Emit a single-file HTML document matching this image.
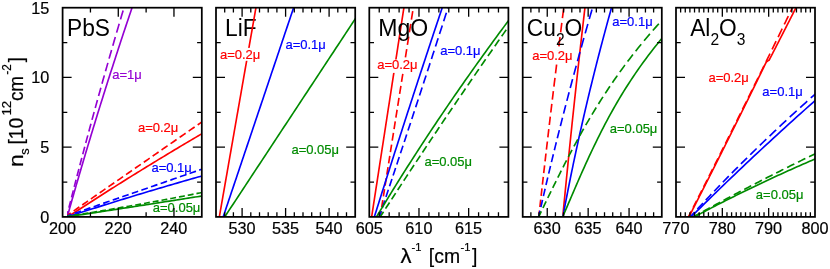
<!DOCTYPE html>
<html><head><meta charset="utf-8"><title>chart</title>
<style>html,body{margin:0;padding:0;background:#fff}svg{display:block;will-change:transform}</style>
</head><body>
<svg width="830" height="269" viewBox="0 0 830 269">
<rect width="830" height="269" fill="#fff"/>
<defs>
<clipPath id="c0"><rect x="67.0" y="7.7" width="134.8" height="209.2"/></clipPath>
<clipPath id="c1"><rect x="216.0" y="7.7" width="139.2" height="209.2"/></clipPath>
<clipPath id="c2"><rect x="369.3" y="7.7" width="139.1" height="209.2"/></clipPath>
<clipPath id="c3"><rect x="522.7" y="7.7" width="139.1" height="209.2"/></clipPath>
<clipPath id="c4"><rect x="676.0" y="7.7" width="139.0" height="209.2"/></clipPath>
</defs>
<!-- under -->
<g font-family="'Liberation Sans', sans-serif" fill="#000">
<text transform="translate(225.00,36.00) scale(0.940,1)" font-size="24.20">LiF</text>
</g>
<!-- curves -->
<g clip-path="url(#c0)" fill="none" stroke-width="1.65" stroke-linejoin="round">
<path d="M66.96,217.90 L67.97,214.29 L68.99,210.67 L70.01,207.06 L71.04,203.45 L72.06,199.83 L73.10,196.22 L74.13,192.61 L75.17,188.99 L76.21,185.38 L77.26,181.76 L78.31,178.15 L79.36,174.54 L80.42,170.92 L81.48,167.31 L82.55,163.70 L83.62,160.08 L84.69,156.47 L85.77,152.86 L86.84,149.24 L87.93,145.63 L89.02,142.02 L90.11,138.40 L91.20,134.79 L92.30,131.17 L93.40,127.56 L94.51,123.95 L95.62,120.33 L96.73,116.72 L97.85,113.11 L98.97,109.49 L100.09,105.88 L101.22,102.27 L102.35,98.65 L103.49,95.04 L104.62,91.43 L105.77,87.81 L106.91,84.20 L108.06,80.58 L109.22,76.97 L110.38,73.36 L111.54,69.74 L112.70,66.13 L113.87,62.52 L115.04,58.90 L116.22,55.29 L117.40,51.68 L118.58,48.06 L119.77,44.45 L120.96,40.84 L122.15,37.22 L123.35,33.61 L124.55,29.99 L125.76,26.38 L126.97,22.77 L128.18,19.15 L129.40,15.54 L130.62,11.93 L131.84,8.31 L133.07,4.70" stroke="#9400d3"/>
<path d="M66.34,217.90 L67.25,214.29 L68.16,210.67 L69.08,207.06 L69.99,203.45 L70.91,199.83 L71.83,196.22 L72.76,192.61 L73.69,188.99 L74.62,185.38 L75.55,181.76 L76.49,178.15 L77.43,174.54 L78.37,170.92 L79.32,167.31 L80.26,163.70 L81.22,160.08 L82.17,156.47 L83.13,152.86 L84.09,149.24 L85.05,145.63 L86.01,142.02 L86.98,138.40 L87.95,134.79 L88.93,131.17 L89.91,127.56 L90.89,123.95 L91.87,120.33 L92.85,116.72 L93.84,113.11 L94.84,109.49 L95.83,105.88 L96.83,102.27 L97.83,98.65 L98.83,95.04 L99.84,91.43 L100.85,87.81 L101.86,84.20 L102.87,80.58 L103.89,76.97 L104.91,73.36 L105.93,69.74 L106.96,66.13 L107.99,62.52 L109.02,58.90 L110.05,55.29 L111.09,51.68 L112.13,48.06 L113.18,44.45 L114.22,40.84 L115.27,37.22 L116.32,33.61 L117.38,29.99 L118.44,26.38 L119.50,22.77 L120.56,19.15 L121.63,15.54 L122.70,11.93 L123.77,8.31 L124.85,4.70" stroke="#9400d3" stroke-dasharray="7.0,3.5,7.1,3.6,7.2,3.6,7.4,3.7,7.5,3.8,7.6,3.8,7.7,3.9,7.9,4.0,8.0,4.0,8.2,4.1,8.3,4.2,8.5,4.3,8.6,4.3,8.7,4.4,8.9,4.5,9.1,4.6,9.2,4.6,9.3,4.7,9.3,4.7,9.3,4.7,9.3,4.7,9.3,4.7,9.3,4.7,9.3,4.7,9.3,4.7,9.3,4.7"/>
<path d="M67.50,217.07 L69.83,215.55 L72.16,214.02 L74.49,212.50 L76.82,210.99 L79.15,209.47 L81.48,207.96 L83.81,206.45 L86.14,204.94 L88.47,203.44 L90.81,201.94 L93.14,200.44 L95.47,198.95 L97.80,197.46 L100.13,195.97 L102.46,194.48 L104.79,193.00 L107.12,191.52 L109.45,190.04 L111.78,188.56 L114.11,187.09 L116.44,185.62 L118.77,184.16 L121.10,182.69 L123.43,181.23 L125.76,179.77 L128.09,178.32 L130.42,176.87 L132.75,175.42 L135.08,173.97 L137.42,172.53 L139.75,171.09 L142.08,169.65 L144.41,168.21 L146.74,166.78 L149.07,165.35 L151.40,163.93 L153.73,162.50 L156.06,161.08 L158.39,159.66 L160.72,158.25 L163.05,156.84 L165.38,155.43 L167.71,154.02 L170.04,152.62 L172.37,151.22 L174.70,149.82 L177.03,148.42 L179.36,147.03 L181.69,145.64 L184.03,144.25 L186.36,142.87 L188.69,141.49 L191.02,140.11 L193.35,138.74 L195.68,137.36 L198.01,135.99 L200.34,134.63 L202.67,133.26 L205.00,131.90" stroke="#ff0000"/>
<path d="M65.00,216.93 L67.37,215.29 L69.75,213.64 L72.12,211.99 L74.49,210.35 L76.86,208.70 L79.24,207.05 L81.61,205.41 L83.98,203.76 L86.36,202.12 L88.73,200.47 L91.10,198.82 L93.47,197.18 L95.85,195.53 L98.22,193.88 L100.59,192.24 L102.97,190.59 L105.34,188.94 L107.71,187.30 L110.08,185.65 L112.46,184.01 L114.83,182.36 L117.20,180.71 L119.58,179.07 L121.95,177.42 L124.32,175.77 L126.69,174.13 L129.07,172.48 L131.44,170.83 L133.81,169.19 L136.19,167.54 L138.56,165.89 L140.93,164.25 L143.31,162.60 L145.68,160.96 L148.05,159.31 L150.42,157.66 L152.80,156.02 L155.17,154.37 L157.54,152.72 L159.92,151.08 L162.29,149.43 L164.66,147.78 L167.03,146.14 L169.41,144.49 L171.78,142.85 L174.15,141.20 L176.53,139.55 L178.90,137.91 L181.27,136.26 L183.64,134.61 L186.02,132.97 L188.39,131.32 L190.76,129.67 L193.14,128.03 L195.51,126.38 L197.88,124.73 L200.25,123.09 L202.63,121.44 L205.00,119.80" stroke="#ff0000" stroke-dasharray="7.0,3.5,7.0,3.5,7.0,3.5,7.1,3.6,7.1,3.6,7.1,3.6,7.1,3.6,7.2,3.6,7.2,3.6,7.2,3.6,7.2,3.6,7.3,3.7,7.3,3.7,7.3,3.7,7.3,3.7,7.4,3.7,7.4,3.7,7.4,3.7,7.4,3.7,7.4,3.8,7.4,3.8,7.4,3.8,7.4,3.8,7.4,3.8,7.4,3.8,7.4,3.8,7.4,3.8,7.4,3.8,7.4,3.8,7.4,3.8,7.4,3.8"/>
<path d="M67.50,216.84 L69.83,216.08 L72.16,215.33 L74.49,214.57 L76.82,213.82 L79.15,213.06 L81.48,212.31 L83.81,211.56 L86.14,210.82 L88.47,210.07 L90.81,209.33 L93.14,208.58 L95.47,207.84 L97.80,207.11 L100.13,206.37 L102.46,205.63 L104.79,204.90 L107.12,204.17 L109.45,203.44 L111.78,202.71 L114.11,201.99 L116.44,201.27 L118.77,200.54 L121.10,199.82 L123.43,199.10 L125.76,198.39 L128.09,197.67 L130.42,196.96 L132.75,196.25 L135.08,195.54 L137.42,194.83 L139.75,194.13 L142.08,193.42 L144.41,192.72 L146.74,192.02 L149.07,191.32 L151.40,190.63 L153.73,189.93 L156.06,189.24 L158.39,188.55 L160.72,187.86 L163.05,187.17 L165.38,186.49 L167.71,185.80 L170.04,185.12 L172.37,184.44 L174.70,183.76 L177.03,183.09 L179.36,182.41 L181.69,181.74 L184.03,181.07 L186.36,180.40 L188.69,179.73 L191.02,179.06 L193.35,178.40 L195.68,177.74 L198.01,177.08 L200.34,176.42 L202.67,175.76 L205.00,175.11" stroke="#0000ff"/>
<path d="M65.00,216.57 L67.37,215.76 L69.75,214.94 L72.12,214.12 L74.49,213.30 L76.86,212.48 L79.24,211.66 L81.61,210.84 L83.98,210.02 L86.36,209.21 L88.73,208.39 L91.10,207.57 L93.47,206.75 L95.85,205.93 L98.22,205.11 L100.59,204.29 L102.97,203.47 L105.34,202.65 L107.71,201.83 L110.08,201.01 L112.46,200.19 L114.83,199.37 L117.20,198.55 L119.58,197.72 L121.95,196.90 L124.32,196.08 L126.69,195.26 L129.07,194.44 L131.44,193.62 L133.81,192.80 L136.19,191.97 L138.56,191.15 L140.93,190.33 L143.31,189.51 L145.68,188.69 L148.05,187.86 L150.42,187.04 L152.80,186.22 L155.17,185.40 L157.54,184.57 L159.92,183.75 L162.29,182.93 L164.66,182.10 L167.03,181.28 L169.41,180.46 L171.78,179.63 L174.15,178.81 L176.53,177.99 L178.90,177.16 L181.27,176.34 L183.64,175.51 L186.02,174.69 L188.39,173.86 L190.76,173.04 L193.14,172.22 L195.51,171.39 L197.88,170.57 L200.25,169.74 L202.63,168.92 L205.00,168.09" stroke="#0000ff" stroke-dasharray="6.7,3.4,6.7,3.4,6.7,3.4,6.7,3.4,6.7,3.4,6.7,3.4,6.7,3.4,6.7,3.4,6.8,3.4,6.8,3.4,6.8,3.4,6.8,3.4,6.8,3.4,6.8,3.4,6.8,3.4,6.9,3.5,6.9,3.5,6.9,3.5,6.9,3.5,6.9,3.5,6.9,3.5,6.9,3.5,6.9,3.5,6.9,3.5,6.9,3.5,6.9,3.5,6.9,3.5,6.9,3.5,6.9,3.5,6.9,3.5,6.9,3.5,6.9,3.5,6.9,3.5"/>
<path d="M67.50,216.80 L69.82,216.45 L72.14,216.10 L74.46,215.75 L76.78,215.40 L79.10,215.04 L81.42,214.69 L83.74,214.34 L86.06,213.98 L88.38,213.63 L90.70,213.28 L93.02,212.92 L95.34,212.57 L97.66,212.21 L99.98,211.86 L102.31,211.50 L104.63,211.15 L106.95,210.79 L109.27,210.44 L111.59,210.08 L113.91,209.72 L116.23,209.37 L118.55,209.01 L120.87,208.65 L123.19,208.29 L125.51,207.93 L127.83,207.58 L130.15,207.22 L132.47,206.86 L134.79,206.50 L137.11,206.14 L139.43,205.78 L141.75,205.42 L144.07,205.06 L146.39,204.70 L148.71,204.34 L151.03,203.98 L153.35,203.62 L155.67,203.25 L157.99,202.89 L160.31,202.53 L162.63,202.17 L164.95,201.80 L167.27,201.44 L169.59,201.08 L171.92,200.71 L174.24,200.35 L176.56,199.99 L178.88,199.62 L181.20,199.26 L183.52,198.89 L185.84,198.53 L188.16,198.16 L190.48,197.80 L192.80,197.43 L195.12,197.06 L197.44,196.70 L199.76,196.33 L202.08,195.96 L204.40,195.59" stroke="#008b00"/>
<path d="M65.00,216.80 L67.36,216.43 L69.73,216.06 L72.09,215.69 L74.45,215.31 L76.81,214.93 L79.18,214.55 L81.54,214.17 L83.90,213.79 L86.26,213.40 L88.63,213.02 L90.99,212.63 L93.35,212.24 L95.72,211.85 L98.08,211.45 L100.44,211.06 L102.80,210.66 L105.17,210.26 L107.53,209.86 L109.89,209.46 L112.25,209.06 L114.62,208.66 L116.98,208.25 L119.34,207.84 L121.71,207.43 L124.07,207.02 L126.43,206.61 L128.79,206.19 L131.16,205.77 L133.52,205.36 L135.88,204.94 L138.24,204.52 L140.61,204.09 L142.97,203.67 L145.33,203.24 L147.69,202.81 L150.06,202.38 L152.42,201.95 L154.78,201.52 L157.15,201.08 L159.51,200.65 L161.87,200.21 L164.23,199.77 L166.60,199.33 L168.96,198.88 L171.32,198.44 L173.68,197.99 L176.05,197.54 L178.41,197.09 L180.77,196.64 L183.14,196.19 L185.50,195.73 L187.86,195.28 L190.22,194.82 L192.59,194.36 L194.95,193.90 L197.31,193.43 L199.67,192.97 L202.04,192.50 L204.40,192.03" stroke="#008b00" stroke-dasharray="5.9,3.0,5.9,3.0,5.9,3.0,5.9,3.0,5.9,3.0,5.9,3.0,5.9,3.0,5.9,3.0,5.9,3.0,5.9,3.0,5.9,3.0,5.9,3.0,5.9,3.0,5.9,3.0,5.9,3.0,5.9,3.0,5.9,3.0,5.9,3.0,5.9,3.0,5.9,3.0,5.9,3.0,5.9,3.0,5.9,3.0,5.9,3.0,5.9,3.0,5.9,3.0,5.9,3.0,5.9,3.0,5.9,3.0,5.9,3.0,5.9,3.0,5.9,3.0,5.9,3.0,5.9,3.0,5.9,3.0,5.9,3.0,5.9,3.0,5.9,3.0"/>
</g>
<g clip-path="url(#c1)" fill="none" stroke-width="1.65" stroke-linejoin="round">
<path d="M219.16,217.90 L219.79,214.29 L220.42,210.67 L221.05,207.06 L221.68,203.45 L222.32,199.83 L222.95,196.22 L223.58,192.61 L224.21,188.99 L224.85,185.38 L225.48,181.76 L226.11,178.15 L226.74,174.54 L227.38,170.92 L228.01,167.31 L228.64,163.70 L229.27,160.08 L229.91,156.47 L230.54,152.86 L231.17,149.24 L231.80,145.63 L232.43,142.02 L233.07,138.40 L233.70,134.79 L234.33,131.17 L234.96,127.56 L235.60,123.95 L236.23,120.33 L236.86,116.72 L237.49,113.11 L238.13,109.49 L238.76,105.88 L239.39,102.27 L240.02,98.65 L240.66,95.04 L241.29,91.43 L241.92,87.81 L242.55,84.20 L243.19,80.58 L243.82,76.97 L244.45,73.36 L245.08,69.74 L245.71,66.13 L246.35,62.52 L246.98,58.90 L247.61,55.29 L248.24,51.68 L248.88,48.06 L249.51,44.45 L250.14,40.84 L250.77,37.22 L251.41,33.61 L252.04,29.99 L252.67,26.38 L253.30,22.77 L253.94,19.15 L254.57,15.54 L255.20,11.93 L255.83,8.31 L256.46,4.70" stroke="#ff0000"/>
<path d="M222.85,217.90 L224.06,214.29 L225.28,210.67 L226.50,207.06 L227.71,203.45 L228.93,199.83 L230.15,196.22 L231.36,192.61 L232.58,188.99 L233.80,185.38 L235.01,181.76 L236.23,178.15 L237.45,174.54 L238.66,170.92 L239.88,167.31 L241.10,163.70 L242.31,160.08 L243.53,156.47 L244.75,152.86 L245.96,149.24 L247.18,145.63 L248.40,142.02 L249.61,138.40 L250.83,134.79 L252.05,131.17 L253.26,127.56 L254.48,123.95 L255.70,120.33 L256.91,116.72 L258.13,113.11 L259.35,109.49 L260.56,105.88 L261.78,102.27 L263.00,98.65 L264.21,95.04 L265.43,91.43 L266.65,87.81 L267.86,84.20 L269.08,80.58 L270.30,76.97 L271.51,73.36 L272.73,69.74 L273.95,66.13 L275.16,62.52 L276.38,58.90 L277.60,55.29 L278.81,51.68 L280.03,48.06 L281.25,44.45 L282.46,40.84 L283.68,37.22 L284.90,33.61 L286.11,29.99 L287.33,26.38 L288.55,22.77 L289.77,19.15 L290.98,15.54 L292.20,11.93 L293.42,8.31 L294.63,4.70" stroke="#0000ff"/>
<path d="M224.07,217.90 L226.45,214.29 L228.83,210.67 L231.21,207.06 L233.60,203.45 L235.98,199.83 L238.36,196.22 L240.74,192.61 L243.12,188.99 L245.50,185.38 L247.88,181.76 L250.27,178.15 L252.65,174.54 L255.03,170.92 L257.41,167.31 L259.79,163.70 L262.17,160.08 L264.55,156.47 L266.94,152.86 L269.32,149.24 L271.70,145.63 L274.08,142.02 L276.46,138.40 L278.84,134.79 L281.23,131.17 L283.61,127.56 L285.99,123.95 L288.37,120.33 L290.75,116.72 L293.13,113.11 L295.51,109.49 L297.90,105.88 L300.28,102.27 L302.66,98.65 L305.04,95.04 L307.42,91.43 L309.80,87.81 L312.18,84.20 L314.57,80.58 L316.95,76.97 L319.33,73.36 L321.71,69.74 L324.09,66.13 L326.47,62.52 L328.86,58.90 L331.24,55.29 L333.62,51.68 L336.00,48.06 L338.38,44.45 L340.76,40.84 L343.14,37.22 L345.53,33.61 L347.91,29.99 L350.29,26.38 L352.67,22.77 L355.05,19.15 L357.43,15.54 L359.82,11.93 L362.20,8.31 L364.58,4.70" stroke="#008b00"/>
</g>
<g clip-path="url(#c2)" fill="none" stroke-width="1.65" stroke-linejoin="round">
<path d="M371.49,217.90 L372.04,214.29 L372.60,210.67 L373.16,207.06 L373.71,203.45 L374.27,199.83 L374.83,196.22 L375.39,192.61 L375.94,188.99 L376.50,185.38 L377.06,181.76 L377.61,178.15 L378.17,174.54 L378.73,170.92 L379.28,167.31 L379.84,163.70 L380.40,160.08 L380.96,156.47 L381.51,152.86 L382.07,149.24 L382.63,145.63 L383.18,142.02 L383.74,138.40 L384.30,134.79 L384.86,131.17 L385.41,127.56 L385.97,123.95 L386.53,120.33 L387.08,116.72 L387.64,113.11 L388.20,109.49 L388.75,105.88 L389.31,102.27 L389.87,98.65 L390.43,95.04 L390.98,91.43 L391.54,87.81 L392.10,84.20 L392.65,80.58 L393.21,76.97 L393.77,73.36 L394.33,69.74 L394.88,66.13 L395.44,62.52 L396.00,58.90 L396.55,55.29 L397.11,51.68 L397.67,48.06 L398.22,44.45 L398.78,40.84 L399.34,37.22 L399.90,33.61 L400.45,29.99 L401.01,26.38 L401.57,22.77 L402.12,19.15 L402.68,15.54 L403.24,11.93 L403.80,8.31 L404.35,4.70" stroke="#ff0000"/>
<path d="M379.98,217.90 L380.55,214.29 L381.12,210.67 L381.70,207.06 L382.27,203.45 L382.84,199.83 L383.42,196.22 L383.99,192.61 L384.56,188.99 L385.13,185.38 L385.71,181.76 L386.28,178.15 L386.85,174.54 L387.42,170.92 L388.00,167.31 L388.57,163.70 L389.14,160.08 L389.72,156.47 L390.29,152.86 L390.86,149.24 L391.43,145.63 L392.01,142.02 L392.58,138.40 L393.15,134.79 L393.72,131.17 L394.30,127.56 L394.87,123.95 L395.44,120.33 L396.02,116.72 L396.59,113.11 L397.16,109.49 L397.73,105.88 L398.31,102.27 L398.88,98.65 L399.45,95.04 L400.03,91.43 L400.60,87.81 L401.17,84.20 L401.74,80.58 L402.32,76.97 L402.89,73.36 L403.46,69.74 L404.03,66.13 L404.61,62.52 L405.18,58.90 L405.75,55.29 L406.33,51.68 L406.90,48.06 L407.47,44.45 L408.04,40.84 L408.62,37.22 L409.19,33.61 L409.76,29.99 L410.34,26.38 L410.91,22.77 L411.48,19.15 L412.05,15.54 L412.63,11.93 L413.20,8.31 L413.77,4.70" stroke="#ff0000" stroke-dasharray="7.2,3.6,7.3,3.7,7.3,3.7,7.4,3.7,7.5,3.8,7.6,3.8,7.7,3.9,7.8,3.9,7.8,3.9,7.9,4.0,8.0,4.0,8.1,4.1,8.2,4.1,8.3,4.2,8.4,4.2,8.5,4.3,8.6,4.3,8.6,4.4,8.6,4.4,8.6,4.4,8.6,4.4,8.6,4.4,8.6,4.4,8.6,4.4,8.6,4.4,8.6,4.4,8.6,4.4"/>
<path d="M374.02,217.90 L375.16,214.29 L376.29,210.67 L377.43,207.06 L378.57,203.45 L379.71,199.83 L380.85,196.22 L381.99,192.61 L383.14,188.99 L384.28,185.38 L385.43,181.76 L386.58,178.15 L387.73,174.54 L388.88,170.92 L390.03,167.31 L391.18,163.70 L392.34,160.08 L393.49,156.47 L394.65,152.86 L395.81,149.24 L396.97,145.63 L398.13,142.02 L399.29,138.40 L400.45,134.79 L401.62,131.17 L402.79,127.56 L403.95,123.95 L405.12,120.33 L406.29,116.72 L407.47,113.11 L408.64,109.49 L409.81,105.88 L410.99,102.27 L412.17,98.65 L413.34,95.04 L414.52,91.43 L415.71,87.81 L416.89,84.20 L418.07,80.58 L419.26,76.97 L420.44,73.36 L421.63,69.74 L422.82,66.13 L424.01,62.52 L425.20,58.90 L426.39,55.29 L427.59,51.68 L428.79,48.06 L429.98,44.45 L431.18,40.84 L432.38,37.22 L433.58,33.61 L434.78,29.99 L435.99,26.38 L437.19,22.77 L438.40,19.15 L439.61,15.54 L440.82,11.93 L442.03,8.31 L443.24,4.70" stroke="#0000ff"/>
<path d="M378.95,217.90 L380.16,214.29 L381.37,210.67 L382.58,207.06 L383.79,203.45 L385.00,199.83 L386.21,196.22 L387.41,192.61 L388.62,188.99 L389.82,185.38 L391.03,181.76 L392.23,178.15 L393.43,174.54 L394.63,170.92 L395.84,167.31 L397.04,163.70 L398.23,160.08 L399.43,156.47 L400.63,152.86 L401.83,149.24 L403.02,145.63 L404.22,142.02 L405.41,138.40 L406.60,134.79 L407.79,131.17 L408.99,127.56 L410.18,123.95 L411.37,120.33 L412.55,116.72 L413.74,113.11 L414.93,109.49 L416.12,105.88 L417.30,102.27 L418.48,98.65 L419.67,95.04 L420.85,91.43 L422.03,87.81 L423.21,84.20 L424.39,80.58 L425.57,76.97 L426.75,73.36 L427.93,69.74 L429.10,66.13 L430.28,62.52 L431.46,58.90 L432.63,55.29 L433.80,51.68 L434.97,48.06 L436.15,44.45 L437.32,40.84 L438.49,37.22 L439.66,33.61 L440.82,29.99 L441.99,26.38 L443.16,22.77 L444.32,19.15 L445.49,15.54 L446.65,11.93 L447.81,8.31 L448.97,4.70" stroke="#0000ff" stroke-dasharray="7.3,3.7,7.4,3.7,7.5,3.8,7.6,3.8,7.7,3.9,7.8,3.9,7.9,4.0,8.0,4.0,8.1,4.1,8.2,4.1,8.3,4.2,8.4,4.2,8.5,4.3,8.6,4.3,8.7,4.4,8.8,4.4,8.9,4.5,9.0,4.5,9.0,4.5,9.0,4.5,9.0,4.5,9.0,4.5,9.0,4.5,9.0,4.5,9.0,4.5,9.0,4.5,9.0,4.5"/>
<path d="M375.90,217.90 L378.06,214.29 L380.24,210.67 L382.43,207.06 L384.63,203.45 L386.83,199.83 L389.05,196.22 L391.28,192.61 L393.51,188.99 L395.76,185.38 L398.01,181.76 L400.28,178.15 L402.55,174.54 L404.84,170.92 L407.13,167.31 L409.44,163.70 L411.75,160.08 L414.07,156.47 L416.41,152.86 L418.75,149.24 L421.10,145.63 L423.47,142.02 L425.84,138.40 L428.22,134.79 L430.61,131.17 L433.02,127.56 L435.43,123.95 L437.85,120.33 L440.28,116.72 L442.72,113.11 L445.17,109.49 L447.63,105.88 L450.10,102.27 L452.58,98.65 L455.07,95.04 L457.57,91.43 L460.08,87.81 L462.60,84.20 L465.13,80.58 L467.67,76.97 L470.22,73.36 L472.77,69.74 L475.34,66.13 L477.92,62.52 L480.51,58.90 L483.10,55.29 L485.71,51.68 L488.33,48.06 L490.95,44.45 L493.59,40.84 L496.24,37.22 L498.89,33.61 L501.56,29.99 L504.23,26.38 L506.92,22.77 L509.61,19.15 L512.32,15.54 L515.03,11.93 L517.75,8.31 L520.49,4.70" stroke="#008b00"/>
<path d="M379.56,217.90 L381.89,214.29 L384.23,210.67 L386.57,207.06 L388.92,203.45 L391.27,199.83 L393.62,196.22 L395.98,192.61 L398.34,188.99 L400.71,185.38 L403.07,181.76 L405.45,178.15 L407.82,174.54 L410.20,170.92 L412.59,167.31 L414.98,163.70 L417.37,160.08 L419.77,156.47 L422.17,152.86 L424.57,149.24 L426.98,145.63 L429.39,142.02 L431.80,138.40 L434.22,134.79 L436.65,131.17 L439.07,127.56 L441.51,123.95 L443.94,120.33 L446.38,116.72 L448.82,113.11 L451.27,109.49 L453.72,105.88 L456.17,102.27 L458.63,98.65 L461.10,95.04 L463.56,91.43 L466.03,87.81 L468.51,84.20 L470.98,80.58 L473.47,76.97 L475.95,73.36 L478.44,69.74 L480.93,66.13 L483.43,62.52 L485.93,58.90 L488.44,55.29 L490.95,51.68 L493.46,48.06 L495.98,44.45 L498.50,40.84 L501.02,37.22 L503.55,33.61 L506.08,29.99 L508.62,26.38 L511.16,22.77 L513.70,19.15 L516.25,15.54 L518.80,11.93 L521.36,8.31 L523.92,4.70" stroke="#008b00" stroke-dasharray="7.3,3.7,7.4,3.7,7.4,3.7,7.4,3.7,7.5,3.8,7.5,3.8,7.5,3.8,7.6,3.8,7.6,3.8,7.7,3.9,7.7,3.9,7.7,3.9,7.8,3.9,7.8,3.9,7.8,4.0,7.9,4.0,7.9,4.0,8.0,4.0,8.0,4.0,8.0,4.0,8.0,4.0,8.0,4.0,8.0,4.0,8.0,4.0,8.0,4.0,8.0,4.0,8.0,4.0,8.0,4.0,8.0,4.0"/>
</g>
<g clip-path="url(#c3)" fill="none" stroke-width="1.65" stroke-linejoin="round">
<path d="M562.66,217.90 L563.00,214.29 L563.35,210.67 L563.69,207.06 L564.04,203.45 L564.39,199.83 L564.75,196.22 L565.10,192.61 L565.45,188.99 L565.81,185.38 L566.17,181.76 L566.53,178.15 L566.89,174.54 L567.25,170.92 L567.61,167.31 L567.97,163.70 L568.34,160.08 L568.71,156.47 L569.07,152.86 L569.44,149.24 L569.81,145.63 L570.18,142.02 L570.56,138.40 L570.93,134.79 L571.31,131.17 L571.68,127.56 L572.06,123.95 L572.44,120.33 L572.82,116.72 L573.21,113.11 L573.59,109.49 L573.98,105.88 L574.36,102.27 L574.75,98.65 L575.14,95.04 L575.53,91.43 L575.92,87.81 L576.31,84.20 L576.71,80.58 L577.10,76.97 L577.50,73.36 L577.90,69.74 L578.30,66.13 L578.70,62.52 L579.10,58.90 L579.51,55.29 L579.91,51.68 L580.32,48.06 L580.72,44.45 L581.13,40.84 L581.54,37.22 L581.96,33.61 L582.37,29.99 L582.78,26.38 L583.20,22.77 L583.62,19.15 L584.03,15.54 L584.45,11.93 L584.87,8.31 L585.30,4.70" stroke="#ff0000"/>
<path d="M538.67,217.90 L539.07,214.29 L539.47,210.67 L539.88,207.06 L540.28,203.45 L540.69,199.83 L541.09,196.22 L541.50,192.61 L541.91,188.99 L542.31,185.38 L542.72,181.76 L543.14,178.15 L543.55,174.54 L543.96,170.92 L544.38,167.31 L544.79,163.70 L545.21,160.08 L545.63,156.47 L546.04,152.86 L546.46,149.24 L546.88,145.63 L547.31,142.02 L547.73,138.40 L548.15,134.79 L548.58,131.17 L549.01,127.56 L549.43,123.95 L549.86,120.33 L550.29,116.72 L550.72,113.11 L551.15,109.49 L551.59,105.88 L552.02,102.27 L552.45,98.65 L552.89,95.04 L553.33,91.43 L553.77,87.81 L554.20,84.20 L554.64,80.58 L555.09,76.97 L555.53,73.36 L555.97,69.74 L556.42,66.13 L556.86,62.52 L557.31,58.90 L557.76,55.29 L558.21,51.68 L558.66,48.06 L559.11,44.45 L559.56,40.84 L560.01,37.22 L560.47,33.61 L560.92,29.99 L561.38,26.38 L561.84,22.77 L562.29,19.15 L562.75,15.54 L563.22,11.93 L563.68,8.31 L564.14,4.70" stroke="#ff0000" stroke-dasharray="7.3,3.7,7.4,3.7,7.6,3.8,7.7,3.9,7.8,3.9,8.0,4.0,8.1,4.1,8.3,4.2,8.4,4.2,8.6,4.3,8.7,4.4,8.9,4.5,9.0,4.5,9.2,4.6,9.3,4.7,9.5,4.8,9.6,4.9,9.6,4.9,9.6,4.9,9.6,4.9,9.6,4.9,9.6,4.9,9.6,4.9,9.6,4.9,9.6,4.9"/>
<path d="M562.69,217.90 L563.36,214.29 L564.03,210.67 L564.71,207.06 L565.40,203.45 L566.10,199.83 L566.80,196.22 L567.50,192.61 L568.21,188.99 L568.93,185.38 L569.65,181.76 L570.38,178.15 L571.12,174.54 L571.86,170.92 L572.61,167.31 L573.36,163.70 L574.12,160.08 L574.88,156.47 L575.66,152.86 L576.43,149.24 L577.22,145.63 L578.00,142.02 L578.80,138.40 L579.60,134.79 L580.41,131.17 L581.22,127.56 L582.04,123.95 L582.86,120.33 L583.69,116.72 L584.53,113.11 L585.37,109.49 L586.22,105.88 L587.07,102.27 L587.93,98.65 L588.80,95.04 L589.67,91.43 L590.55,87.81 L591.43,84.20 L592.32,80.58 L593.22,76.97 L594.12,73.36 L595.03,69.74 L595.94,66.13 L596.86,62.52 L597.78,58.90 L598.72,55.29 L599.65,51.68 L600.60,48.06 L601.54,44.45 L602.50,40.84 L603.46,37.22 L604.43,33.61 L605.40,29.99 L606.38,26.38 L607.36,22.77 L608.35,19.15 L609.35,15.54 L610.35,11.93 L611.36,8.31 L612.38,4.70" stroke="#0000ff"/>
<path d="M538.43,217.90 L539.25,214.29 L540.06,210.67 L540.89,207.06 L541.71,203.45 L542.54,199.83 L543.38,196.22 L544.22,192.61 L545.06,188.99 L545.90,185.38 L546.75,181.76 L547.61,178.15 L548.47,174.54 L549.33,170.92 L550.20,167.31 L551.07,163.70 L551.94,160.08 L552.82,156.47 L553.71,152.86 L554.59,149.24 L555.48,145.63 L556.38,142.02 L557.28,138.40 L558.18,134.79 L559.09,131.17 L560.00,127.56 L560.92,123.95 L561.84,120.33 L562.76,116.72 L563.69,113.11 L564.62,109.49 L565.55,105.88 L566.49,102.27 L567.44,98.65 L568.39,95.04 L569.34,91.43 L570.29,87.81 L571.25,84.20 L572.22,80.58 L573.19,76.97 L574.16,73.36 L575.14,69.74 L576.12,66.13 L577.10,62.52 L578.09,58.90 L579.08,55.29 L580.08,51.68 L581.08,48.06 L582.08,44.45 L583.09,40.84 L584.11,37.22 L585.12,33.61 L586.14,29.99 L587.17,26.38 L588.20,22.77 L589.23,19.15 L590.27,15.54 L591.31,11.93 L592.36,8.31 L593.41,4.70" stroke="#0000ff" stroke-dasharray="7.3,3.7,7.5,3.8,7.6,3.8,7.8,3.9,7.9,4.0,8.1,4.1,8.2,4.1,8.4,4.2,8.6,4.3,8.7,4.4,8.9,4.5,9.1,4.6,9.3,4.7,9.5,4.8,9.7,4.9,9.8,5.0,10.0,5.0,10.0,5.0,10.0,5.0,10.0,5.0,10.0,5.0,10.0,5.0,10.0,5.0,10.0,5.0,10.0,5.0"/>
<path d="M562.26,217.90 L563.81,214.29 L565.36,210.67 L566.91,207.06 L568.46,203.45 L570.00,199.83 L571.55,196.22 L573.11,192.61 L574.67,188.99 L576.23,185.38 L577.81,181.76 L579.39,178.15 L580.98,174.54 L582.59,170.92 L584.21,167.31 L585.84,163.70 L587.49,160.08 L589.16,156.47 L590.84,152.86 L592.55,149.24 L594.28,145.63 L596.03,142.02 L597.80,138.40 L599.61,134.79 L601.43,131.17 L603.29,127.56 L605.17,123.95 L607.09,120.33 L609.04,116.72 L611.02,113.11 L613.04,109.49 L615.10,105.88 L617.19,102.27 L619.32,98.65 L621.49,95.04 L623.71,91.43 L625.96,87.81 L628.26,84.20 L630.61,80.58 L633.01,76.97 L635.45,73.36 L637.95,69.74 L640.49,66.13 L643.09,62.52 L645.74,58.90 L648.45,55.29 L651.22,51.68 L654.04,48.06 L656.92,44.45 L659.87,40.84 L662.87,37.22 L665.94,33.61 L669.08,29.99 L672.28,26.38 L675.55,22.77 L678.89,19.15 L682.30,15.54 L685.78,11.93 L689.33,8.31 L692.96,4.70" stroke="#008b00"/>
<path d="M538.16,217.90 L539.90,214.29 L541.64,210.67 L543.39,207.06 L545.13,203.45 L546.88,199.83 L548.64,196.22 L550.40,192.61 L552.17,188.99 L553.94,185.38 L555.73,181.76 L557.52,178.15 L559.33,174.54 L561.15,170.92 L562.98,167.31 L564.83,163.70 L566.69,160.08 L568.58,156.47 L570.47,152.86 L572.39,149.24 L574.33,145.63 L576.29,142.02 L578.27,138.40 L580.27,134.79 L582.30,131.17 L584.35,127.56 L586.43,123.95 L588.54,120.33 L590.67,116.72 L592.84,113.11 L595.04,109.49 L597.26,105.88 L599.52,102.27 L601.82,98.65 L604.15,95.04 L606.51,91.43 L608.92,87.81 L611.36,84.20 L613.84,80.58 L616.36,76.97 L618.92,73.36 L621.52,69.74 L624.17,66.13 L626.86,62.52 L629.60,58.90 L632.38,55.29 L635.22,51.68 L638.10,48.06 L641.03,44.45 L644.01,40.84 L647.04,37.22 L650.13,33.61 L653.27,29.99 L656.47,26.38 L659.72,22.77 L663.03,19.15 L666.40,15.54 L669.83,11.93 L673.32,8.31 L676.87,4.70" stroke="#008b00" stroke-dasharray="7.3,3.7,7.4,3.7,7.5,3.8,7.6,3.8,7.7,3.9,7.8,3.9,7.9,4.0,8.0,4.0,8.1,4.1,8.2,4.1,8.3,4.2,8.4,4.2,8.5,4.3,8.6,4.3,8.7,4.4,8.8,4.4,8.9,4.5,9.0,4.5,9.0,4.5,9.0,4.5,9.0,4.5,9.0,4.5,9.0,4.5,9.0,4.5,9.0,4.5,9.0,4.5,9.0,4.5"/>
</g>
<g clip-path="url(#c4)" fill="none" stroke-width="1.65" stroke-linejoin="round">
<path d="M688.42,217.90 L688.88,217.01 L689.33,216.12 L689.79,215.22 L690.25,214.33 L690.70,213.44 L691.16,212.55 L691.62,211.66 L692.07,210.76 L692.53,209.87 L692.98,208.98 L693.44,208.09 L693.90,207.20 L694.35,206.30 L694.81,205.41 L695.26,204.52 L695.72,203.63 L696.17,202.74 L696.63,201.84 L697.08,200.95 L697.54,200.06 L697.99,199.17 L698.45,198.27 L698.90,197.38 L699.35,196.49 L699.81,195.60 L700.26,194.71 L700.72,193.81 L701.17,192.92 L701.62,192.03 L702.08,191.14 L702.53,190.25 L702.98,189.35 L703.44,188.46 L703.89,187.57 L704.34,186.68 L704.79,185.79 L705.25,184.89 L705.70,184.00 L706.15,183.11 L706.60,182.22 L707.05,181.33 L707.51,180.43 L707.96,179.54 L708.41,178.65 L708.86,177.76 L709.31,176.87 L709.76,175.97 L710.21,175.08 L710.67,174.19 L711.12,173.30 L711.57,172.41 L712.02,171.51 L712.47,170.62 L712.92,169.73 L713.37,168.84 L713.82,167.95 L714.27,167.05 L714.72,166.16 L715.17,165.27 L715.62,164.38 L716.06,163.48 L716.51,162.59 L716.96,161.70 L717.41,160.81 L717.86,159.92 L718.31,159.02 L718.76,158.13 L719.20,157.24 L719.65,156.35 L720.10,155.46 L720.55,154.56 L721.00,153.67 L721.44,152.78 L721.89,151.89 L722.34,151.00 L722.79,150.10 L723.23,149.21 L723.68,148.32 L724.13,147.43 L724.57,146.54 L725.02,145.64 L725.47,144.75 L725.91,143.86 L726.36,142.97 L726.81,142.08 L727.25,141.18 L727.70,140.29 L728.14,139.40 L728.59,138.51 L729.03,137.62 L729.48,136.72 L729.92,135.83 L730.37,134.94 L730.81,134.05 L731.26,133.16 L731.70,132.26 L732.15,131.37 L732.59,130.48 L733.03,129.59 L733.48,128.69 L733.92,127.80 L734.37,126.91 L734.81,126.02 L735.25,125.13 L735.70,124.23 L736.14,123.34 L736.58,122.45 L737.03,121.56 L737.47,120.67 L737.91,119.77 L738.35,118.88 L738.80,117.99 L739.24,117.10 L739.68,116.21 L740.12,115.31 L740.56,114.42 L741.01,113.53 L741.45,112.64 L741.89,111.75 L742.33,110.85 L742.77,109.96 L743.21,109.07 L743.65,108.18 L744.09,107.29 L744.54,106.39 L744.98,105.50 L745.42,104.61 L745.86,103.72 L746.30,102.83 L746.74,101.93 L747.18,101.04 L747.62,100.15 L748.06,99.26 L748.50,98.37 L748.93,97.47 L749.37,96.58 L749.81,95.69 L750.25,94.80 L750.69,93.91 L751.13,93.01 L751.57,92.12 L752.01,91.23 L752.44,90.34 L752.88,89.44 L753.32,88.55 L753.76,87.66 L754.20,86.77 L754.63,85.88 L755.07,84.98 L755.51,84.09 L755.95,83.20 L756.38,82.31 L756.82,81.42 L757.26,80.52 L757.69,79.63 L758.13,78.74 L758.57,77.85 L759.00,76.96 L759.44,76.06 L759.87,75.17 L760.31,74.28 L760.75,73.39 L761.18,72.50 L761.62,71.60 L762.05,70.71 L762.49,69.82 L762.92,68.93 L763.36,68.04 L763.79,67.14 L764.23,66.25 L764.66,65.36 L765.10,64.47 L765.53,63.58 L765.96,62.68 L766.59,61.79 L767.88,60.90 L769.19,60.01 L769.66,59.12 L770.12,58.22 L770.58,57.33 L771.04,56.44 L771.50,55.55 L771.95,54.65 L772.41,53.76 L772.87,52.87 L773.33,51.98 L773.79,51.09 L774.25,50.19 L774.71,49.30 L775.17,48.41 L775.63,47.52 L776.09,46.63 L776.54,45.73 L777.00,44.84 L777.46,43.95 L777.92,43.06 L778.38,42.17 L778.83,41.27 L779.29,40.38 L779.75,39.49 L780.21,38.60 L780.66,37.71 L781.12,36.81 L781.58,35.92 L782.03,35.03 L782.49,34.14 L782.95,33.25 L783.40,32.35 L783.86,31.46 L784.32,30.57 L784.77,29.68 L785.23,28.79 L785.68,27.89 L786.14,27.00 L786.59,26.11 L787.05,25.22 L787.50,24.33 L787.96,23.43 L788.41,22.54 L788.87,21.65 L789.32,20.76 L789.78,19.86 L790.23,18.97 L790.69,18.08 L791.14,17.19 L791.59,16.30 L792.05,15.40 L792.50,14.51 L792.96,13.62 L793.41,12.73 L793.86,11.84 L794.32,10.94 L794.77,10.05 L795.22,9.16 L795.67,8.27 L796.13,7.38 L796.58,6.48 L797.03,5.59 L797.48,4.70" stroke="#ff0000"/>
<path d="M687.88,217.90 L689.72,214.29 L691.56,210.67 L693.39,207.06 L695.23,203.45 L697.06,199.83 L698.89,196.22 L700.72,192.61 L702.55,188.99 L704.38,185.38 L706.20,181.76 L708.03,178.15 L709.85,174.54 L711.67,170.92 L713.49,167.31 L715.31,163.70 L717.13,160.08 L718.94,156.47 L720.76,152.86 L722.57,149.24 L724.38,145.63 L726.19,142.02 L728.00,138.40 L729.80,134.79 L731.61,131.17 L733.41,127.56 L735.22,123.95 L737.02,120.33 L738.82,116.72 L740.61,113.11 L742.41,109.49 L744.20,105.88 L746.00,102.27 L747.79,98.65 L749.58,95.04 L751.37,91.43 L753.16,87.81 L754.94,84.20 L756.73,80.58 L758.51,76.97 L760.29,73.36 L762.07,69.74 L763.85,66.13 L765.63,62.52 L767.40,58.90 L769.18,55.29 L770.95,51.68 L772.72,48.06 L774.49,44.45 L776.26,40.84 L778.03,37.22 L779.79,33.61 L781.56,29.99 L783.32,26.38 L785.08,22.77 L786.84,19.15 L788.60,15.54 L790.35,11.93 L792.11,8.31 L793.86,4.70" stroke="#ff0000" stroke-dasharray="7.6,3.9,7.7,3.9,7.8,3.9,7.9,4.0,8.0,4.0,8.1,4.1,8.2,4.2,8.3,4.2,8.4,4.3,8.6,4.3,8.7,4.4,8.8,4.4,8.9,4.5,9.0,4.5,9.1,4.6,9.2,4.6,9.3,4.7,9.3,4.7,9.3,4.7,9.3,4.7,9.3,4.7,9.3,4.7,9.3,4.7,9.3,4.7,9.3,4.7,9.3,4.7"/>
<path d="M690.15,217.90 L693.77,214.29 L697.41,210.67 L701.06,207.06 L704.73,203.45 L708.41,199.83 L712.10,196.22 L715.81,192.61 L719.53,188.99 L723.27,185.38 L727.02,181.76 L730.79,178.15 L734.57,174.54 L738.36,170.92 L742.17,167.31 L746.00,163.70 L749.83,160.08 L753.68,156.47 L757.55,152.86 L761.43,149.24 L765.33,145.63 L769.24,142.02 L773.16,138.40 L777.10,134.79 L781.05,131.17 L785.02,127.56 L789.00,123.95 L792.99,120.33 L797.00,116.72 L801.03,113.11 L805.07,109.49 L809.12,105.88 L813.18,102.27 L817.27,98.65 L821.36,95.04 L825.47,91.43 L829.60,87.81 L833.73,84.20 L837.89,80.58 L842.06,76.97 L846.24,73.36 L850.43,69.74 L854.64,66.13 L858.87,62.52 L863.11,58.90 L867.36,55.29 L871.63,51.68 L875.91,48.06 L880.21,44.45 L884.52,40.84 L888.84,37.22 L893.18,33.61 L897.53,29.99 L901.90,26.38 L906.28,22.77 L910.68,19.15 L915.09,15.54 L919.52,11.93 L923.96,8.31 L928.41,4.70" stroke="#0000ff"/>
<path d="M689.27,217.90 L692.57,214.29 L695.90,210.67 L699.24,207.06 L702.62,203.45 L706.01,199.83 L709.42,196.22 L712.86,192.61 L716.32,188.99 L719.80,185.38 L723.31,181.76 L726.83,178.15 L730.38,174.54 L733.95,170.92 L737.55,167.31 L741.16,163.70 L744.80,160.08 L748.46,156.47 L752.14,152.86 L755.85,149.24 L759.57,145.63 L763.32,142.02 L767.09,138.40 L770.89,134.79 L774.70,131.17 L778.54,127.56 L782.40,123.95 L786.29,120.33 L790.19,116.72 L794.12,113.11 L798.07,109.49 L802.04,105.88 L806.03,102.27 L810.05,98.65 L814.09,95.04 L818.15,91.43 L822.23,87.81 L826.34,84.20 L830.46,80.58 L834.61,76.97 L838.79,73.36 L842.98,69.74 L847.20,66.13 L851.44,62.52 L855.70,58.90 L859.98,55.29 L864.29,51.68 L868.61,48.06 L872.96,44.45 L877.34,40.84 L881.73,37.22 L886.15,33.61 L890.59,29.99 L895.05,26.38 L899.53,22.77 L904.04,19.15 L908.57,15.54 L913.12,11.93 L917.69,8.31 L922.29,4.70" stroke="#0000ff" stroke-dasharray="8.0,4.0,8.1,4.1,8.2,4.1,8.3,4.2,8.5,4.3,8.6,4.3,8.7,4.4,8.9,4.5,9.0,4.5,9.1,4.6,9.3,4.7,9.4,4.7,9.5,4.8,9.7,4.9,9.8,5.0,10.0,5.0,10.0,5.0,10.0,5.0,10.0,5.0,10.0,5.0,10.0,5.0,10.0,5.0,10.0,5.0,10.0,5.0"/>
<path d="M694.20,216.95 L696.30,215.83 L698.40,214.72 L700.49,213.61 L702.59,212.51 L704.69,211.41 L706.79,210.31 L708.89,209.22 L710.99,208.13 L713.08,207.04 L715.18,205.96 L717.28,204.88 L719.38,203.81 L721.48,202.74 L723.58,201.68 L725.67,200.61 L727.77,199.56 L729.87,198.50 L731.97,197.45 L734.07,196.41 L736.17,195.37 L738.26,194.33 L740.36,193.29 L742.46,192.26 L744.56,191.24 L746.66,190.21 L748.76,189.20 L750.85,188.18 L752.95,187.17 L755.05,186.16 L757.15,185.16 L759.25,184.16 L761.35,183.17 L763.44,182.18 L765.54,181.19 L767.64,180.21 L769.74,179.23 L771.84,178.25 L773.94,177.28 L776.03,176.31 L778.13,175.35 L780.23,174.39 L782.33,173.43 L784.43,172.48 L786.53,171.53 L788.62,170.59 L790.72,169.65 L792.82,168.71 L794.92,167.78 L797.02,166.85 L799.12,165.92 L801.21,165.00 L803.31,164.09 L805.41,163.17 L807.51,162.27 L809.61,161.36 L811.71,160.46 L813.80,159.56 L815.90,158.67 L818.00,157.78" stroke="#008b00"/>
<path d="M693.00,217.01 L695.12,215.84 L697.24,214.67 L699.36,213.51 L701.47,212.35 L703.59,211.18 L705.71,210.03 L707.83,208.87 L709.95,207.72 L712.07,206.57 L714.19,205.42 L716.31,204.28 L718.42,203.13 L720.54,201.99 L722.66,200.86 L724.78,199.72 L726.90,198.59 L729.02,197.46 L731.14,196.33 L733.25,195.21 L735.37,194.09 L737.49,192.97 L739.61,191.85 L741.73,190.74 L743.85,189.63 L745.97,188.52 L748.08,187.41 L750.20,186.31 L752.32,185.21 L754.44,184.11 L756.56,183.02 L758.68,181.93 L760.80,180.84 L762.92,179.75 L765.03,178.66 L767.15,177.58 L769.27,176.50 L771.39,175.42 L773.51,174.35 L775.63,173.28 L777.75,172.21 L779.86,171.14 L781.98,170.08 L784.10,169.02 L786.22,167.96 L788.34,166.90 L790.46,165.85 L792.58,164.80 L794.69,163.75 L796.81,162.71 L798.93,161.66 L801.05,160.62 L803.17,159.58 L805.29,158.55 L807.41,157.52 L809.53,156.49 L811.64,155.46 L813.76,154.44 L815.88,153.41 L818.00,152.39" stroke="#008b00" stroke-dasharray="7.6,3.9,7.7,3.9,7.7,3.9,7.8,3.9,7.8,4.0,7.9,4.0,8.0,4.0,8.0,4.0,8.1,4.1,8.1,4.1,8.2,4.1,8.2,4.1,8.3,4.2,8.3,4.2,8.4,4.2,8.4,4.2,8.5,4.3,8.5,4.3,8.5,4.3,8.5,4.3,8.5,4.3,8.5,4.3,8.5,4.3,8.5,4.3,8.5,4.3,8.5,4.3,8.5,4.3"/>
</g>
<!-- labels -->
<g font-family="'Liberation Sans', sans-serif">
<text transform="translate(112.15,79.10) scale(1.000,1)" font-size="13.00" fill="#9400d3" stroke="#9400d3" stroke-width="0.2">a=1μ</text>
<text transform="translate(137.95,131.70) scale(1.000,1)" font-size="13.00" fill="#ff0000" stroke="#ff0000" stroke-width="0.2">a=0.2μ</text>
<text transform="translate(151.45,172.10) scale(1.000,1)" font-size="13.00" fill="#0000ff" stroke="#0000ff" stroke-width="0.2">a=0.1μ</text>
<text transform="translate(152.75,212.40) scale(1.000,1)" font-size="13.00" fill="#008b00" stroke="#008b00" stroke-width="0.2">a=0.05μ</text>
<rect x="220.0" y="47.9" width="39.9" height="12.9" fill="#fff"/>
<text transform="translate(219.95,59.20) scale(1.000,1)" font-size="13.00" fill="#ff0000" stroke="#ff0000" stroke-width="0.2">a=0.2μ</text>
<text transform="translate(285.45,48.90) scale(1.000,1)" font-size="13.00" fill="#0000ff" stroke="#0000ff" stroke-width="0.2">a=0.1μ</text>
<text transform="translate(291.40,153.50) scale(1.000,1)" font-size="13.00" fill="#008b00" stroke="#008b00" stroke-width="0.2">a=0.05μ</text>
<rect x="377.2" y="59.5" width="39.9" height="13.4" fill="#fff"/>
<text transform="translate(377.15,69.20) scale(1.000,1)" font-size="13.00" fill="#ff0000" stroke="#ff0000" stroke-width="0.2">a=0.2μ</text>
<text transform="translate(440.15,55.40) scale(1.000,1)" font-size="13.00" fill="#0000ff" stroke="#0000ff" stroke-width="0.2">a=0.1μ</text>
<text transform="translate(424.45,166.10) scale(1.000,1)" font-size="13.00" fill="#008b00" stroke="#008b00" stroke-width="0.2">a=0.05μ</text>
<rect x="532.2" y="50.4" width="39.9" height="13.9" fill="#fff"/>
<text transform="translate(532.15,59.80) scale(1.000,1)" font-size="13.00" fill="#ff0000" stroke="#ff0000" stroke-width="0.2">a=0.2μ</text>
<text transform="translate(612.25,26.00) scale(1.000,1)" font-size="13.00" fill="#0000ff" stroke="#0000ff" stroke-width="0.2">a=0.1μ</text>
<text transform="translate(609.75,133.30) scale(1.000,1)" font-size="13.00" fill="#008b00" stroke="#008b00" stroke-width="0.2">a=0.05μ</text>
<text transform="translate(708.45,82.10) scale(1.000,1)" font-size="13.00" fill="#ff0000" stroke="#ff0000" stroke-width="0.2">a=0.2μ</text>
<text transform="translate(762.35,95.90) scale(1.000,1)" font-size="13.00" fill="#0000ff" stroke="#0000ff" stroke-width="0.2">a=0.1μ</text>
<text transform="translate(755.85,198.90) scale(1.000,1)" font-size="13.00" fill="#008b00" stroke="#008b00" stroke-width="0.2">a=0.05μ</text>
</g>
<!-- frame -->
<g stroke="#000" fill="none">
<rect x="62.6" y="7.7" width="139.2" height="209.2" stroke-width="1.75"/>
<path d="M90.44,216.90v-4.70M90.44,7.70v4.70M118.28,216.90v-9.00M118.28,7.70v9.00M146.12,216.90v-4.70M146.12,7.70v4.70M173.96,216.90v-9.00M173.96,7.70v9.00M62.60,182.03h4.70M201.80,182.03h-4.70M62.60,147.17h9.00M201.80,147.17h-9.00M62.60,112.30h4.70M201.80,112.30h-4.70M62.60,77.43h9.00M201.80,77.43h-9.00M62.60,42.57h4.70M201.80,42.57h-4.70" stroke-width="1.30"/>
<rect x="216.0" y="7.7" width="139.2" height="209.2" stroke-width="1.75"/>
<path d="M224.70,216.90v-4.70M224.70,7.70v4.70M233.40,216.90v-4.70M233.40,7.70v4.70M242.10,216.90v-9.00M242.10,7.70v9.00M250.80,216.90v-4.70M250.80,7.70v4.70M259.50,216.90v-4.70M259.50,7.70v4.70M268.20,216.90v-4.70M268.20,7.70v4.70M276.90,216.90v-4.70M276.90,7.70v4.70M285.60,216.90v-9.00M285.60,7.70v9.00M294.30,216.90v-4.70M294.30,7.70v4.70M303.00,216.90v-4.70M303.00,7.70v4.70M311.70,216.90v-4.70M311.70,7.70v4.70M320.40,216.90v-4.70M320.40,7.70v4.70M329.10,216.90v-9.00M329.10,7.70v9.00M337.80,216.90v-4.70M337.80,7.70v4.70M346.50,216.90v-4.70M346.50,7.70v4.70M216.00,182.03h4.70M355.20,182.03h-4.70M216.00,147.17h9.00M355.20,147.17h-9.00M216.00,112.30h4.70M355.20,112.30h-4.70M216.00,77.43h9.00M355.20,77.43h-9.00M216.00,42.57h4.70M355.20,42.57h-4.70" stroke-width="1.30"/>
<rect x="369.3" y="7.7" width="139.1" height="209.2" stroke-width="1.75"/>
<path d="M379.24,216.90v-4.70M379.24,7.70v4.70M389.17,216.90v-4.70M389.17,7.70v4.70M399.11,216.90v-4.70M399.11,7.70v4.70M409.04,216.90v-4.70M409.04,7.70v4.70M418.98,216.90v-9.00M418.98,7.70v9.00M428.91,216.90v-4.70M428.91,7.70v4.70M438.85,216.90v-4.70M438.85,7.70v4.70M448.79,216.90v-4.70M448.79,7.70v4.70M458.72,216.90v-4.70M458.72,7.70v4.70M468.66,216.90v-9.00M468.66,7.70v9.00M478.59,216.90v-4.70M478.59,7.70v4.70M488.53,216.90v-4.70M488.53,7.70v4.70M498.46,216.90v-4.70M498.46,7.70v4.70M369.30,182.03h4.70M508.40,182.03h-4.70M369.30,147.17h9.00M508.40,147.17h-9.00M369.30,112.30h4.70M508.40,112.30h-4.70M369.30,77.43h9.00M508.40,77.43h-9.00M369.30,42.57h4.70M508.40,42.57h-4.70" stroke-width="1.30"/>
<rect x="522.7" y="7.7" width="139.1" height="209.2" stroke-width="1.75"/>
<path d="M530.88,216.90v-4.70M530.88,7.70v4.70M539.06,216.90v-4.70M539.06,7.70v4.70M547.25,216.90v-9.00M547.25,7.70v9.00M555.43,216.90v-4.70M555.43,7.70v4.70M563.61,216.90v-4.70M563.61,7.70v4.70M571.79,216.90v-4.70M571.79,7.70v4.70M579.98,216.90v-4.70M579.98,7.70v4.70M588.16,216.90v-9.00M588.16,7.70v9.00M596.34,216.90v-4.70M596.34,7.70v4.70M604.52,216.90v-4.70M604.52,7.70v4.70M612.71,216.90v-4.70M612.71,7.70v4.70M620.89,216.90v-4.70M620.89,7.70v4.70M629.07,216.90v-9.00M629.07,7.70v9.00M637.25,216.90v-4.70M637.25,7.70v4.70M645.44,216.90v-4.70M645.44,7.70v4.70M653.62,216.90v-4.70M653.62,7.70v4.70M522.70,182.03h4.70M661.80,182.03h-4.70M522.70,147.17h9.00M661.80,147.17h-9.00M522.70,112.30h4.70M661.80,112.30h-4.70M522.70,77.43h9.00M661.80,77.43h-9.00M522.70,42.57h4.70M661.80,42.57h-4.70" stroke-width="1.30"/>
<rect x="676.0" y="7.7" width="139.0" height="209.2" stroke-width="1.75"/>
<path d="M680.63,216.90v-4.70M680.63,7.70v4.70M685.27,216.90v-4.70M685.27,7.70v4.70M689.90,216.90v-4.70M689.90,7.70v4.70M694.53,216.90v-4.70M694.53,7.70v4.70M699.17,216.90v-4.70M699.17,7.70v4.70M703.80,216.90v-4.70M703.80,7.70v4.70M708.43,216.90v-4.70M708.43,7.70v4.70M713.07,216.90v-4.70M713.07,7.70v4.70M717.70,216.90v-4.70M717.70,7.70v4.70M722.33,216.90v-9.00M722.33,7.70v9.00M726.97,216.90v-4.70M726.97,7.70v4.70M731.60,216.90v-4.70M731.60,7.70v4.70M736.23,216.90v-4.70M736.23,7.70v4.70M740.87,216.90v-4.70M740.87,7.70v4.70M745.50,216.90v-4.70M745.50,7.70v4.70M750.13,216.90v-4.70M750.13,7.70v4.70M754.77,216.90v-4.70M754.77,7.70v4.70M759.40,216.90v-4.70M759.40,7.70v4.70M764.03,216.90v-4.70M764.03,7.70v4.70M768.67,216.90v-9.00M768.67,7.70v9.00M773.30,216.90v-4.70M773.30,7.70v4.70M777.93,216.90v-4.70M777.93,7.70v4.70M782.57,216.90v-4.70M782.57,7.70v4.70M787.20,216.90v-4.70M787.20,7.70v4.70M791.83,216.90v-4.70M791.83,7.70v4.70M796.47,216.90v-4.70M796.47,7.70v4.70M801.10,216.90v-4.70M801.10,7.70v4.70M805.73,216.90v-4.70M805.73,7.70v4.70M810.37,216.90v-4.70M810.37,7.70v4.70M676.00,182.03h4.70M815.00,182.03h-4.70M676.00,147.17h9.00M815.00,147.17h-9.00M676.00,112.30h4.70M815.00,112.30h-4.70M676.00,77.43h9.00M815.00,77.43h-9.00M676.00,42.57h4.70M815.00,42.57h-4.70" stroke-width="1.30"/>
</g>
<!-- text -->
<g font-family="'Liberation Sans', sans-serif" fill="#000">
<g stroke="#000" stroke-width="0.2">
<text transform="translate(48.93,233.80) scale(1.0300,1)" font-size="15.80">200</text>
<text transform="translate(104.61,233.80) scale(1.0300,1)" font-size="15.80">220</text>
<text transform="translate(160.29,233.80) scale(1.0300,1)" font-size="15.80">240</text>
<text transform="translate(228.51,233.80) scale(1.0300,1)" font-size="15.80">530</text>
<text transform="translate(272.04,233.80) scale(1.0300,1)" font-size="15.80">535</text>
<text transform="translate(315.51,233.80) scale(1.0300,1)" font-size="15.80">540</text>
<text transform="translate(355.65,233.80) scale(1.0300,1)" font-size="15.80">605</text>
<text transform="translate(405.31,233.80) scale(1.0300,1)" font-size="15.80">610</text>
<text transform="translate(455.01,233.80) scale(1.0300,1)" font-size="15.80">615</text>
<text transform="translate(533.58,233.80) scale(1.0300,1)" font-size="15.80">630</text>
<text transform="translate(574.51,233.80) scale(1.0300,1)" font-size="15.80">635</text>
<text transform="translate(615.40,233.80) scale(1.0300,1)" font-size="15.80">640</text>
<text transform="translate(662.32,233.80) scale(1.0300,1)" font-size="15.80">770</text>
<text transform="translate(708.66,233.80) scale(1.0300,1)" font-size="15.80">780</text>
<text transform="translate(754.99,233.80) scale(1.0300,1)" font-size="15.80">790</text>
<text transform="translate(801.39,233.80) scale(1.0300,1)" font-size="15.80">800</text>
<text transform="translate(40.27,222.90) scale(1.0300,1)" font-size="15.80">0</text>
<text transform="translate(40.32,153.17) scale(1.0300,1)" font-size="15.80">5</text>
<text transform="translate(31.22,83.43) scale(1.0300,1)" font-size="15.80">10</text>
<text transform="translate(31.27,13.70) scale(1.0300,1)" font-size="15.80">15</text>
</g>
<text transform="translate(67.00,36.00) scale(0.940,1)" font-size="24.20">PbS</text>
<text transform="translate(378.20,36.00) scale(0.953,1)" font-size="24.20">MgO</text>
<text transform="translate(526.80,36.00) scale(0.940,1)" font-size="24.20">Cu</text>
<text transform="translate(555.88,45.20) scale(0.940,1)" font-size="16.60">2</text>
<text transform="translate(564.56,36.00) scale(0.940,1)" font-size="24.20">O</text>
<text transform="translate(690.20,36.00) scale(0.940,1)" font-size="24.20">Al</text>
<text transform="translate(710.43,45.20) scale(0.940,1)" font-size="16.60">2</text>
<text transform="translate(719.11,36.00) scale(0.940,1)" font-size="24.20">O</text>
<text transform="translate(736.80,45.20) scale(0.940,1)" font-size="16.60">3</text>
<g stroke="#000" stroke-width="0.2">
<text transform="translate(400.57,263.10) scale(1.1407,1)" font-size="19.30" fill="#000">λ</text>
<text transform="translate(411.51,251.20) scale(1.0152,1)" font-size="11.00" fill="#000">-1</text>
<text transform="translate(428.82,263.10) scale(0.9367,1)" font-size="20.70" fill="#000">[cm</text>
<text transform="translate(460.51,251.20) scale(1.0152,1)" font-size="11.00" fill="#000">-1</text>
<text transform="translate(472.06,263.10) scale(0.9420,1)" font-size="20.70" fill="#000">]</text>
</g>
<g stroke="#000" stroke-width="0.2" transform="translate(22.9,167) rotate(-90)">
<text transform="translate(0.10,0.00) scale(1.1000,1)" font-size="20.70" fill="#000">n</text>
<text transform="translate(12.25,6.30) scale(0.9492,1)" font-size="13.50" fill="#000">s</text>
<text transform="translate(22.42,0.00) scale(0.9390,1)" font-size="20.70" fill="#000">[10</text>
<text transform="translate(51.49,-11.70) scale(1.1072,1)" font-size="12.00" fill="#000">12</text>
<text transform="translate(65.91,0.00) scale(0.9142,1)" font-size="20.70" fill="#000">cm</text>
<text transform="translate(92.28,-11.60) scale(0.9853,1)" font-size="12.00" fill="#000">-2</text>
<text transform="translate(104.87,0.00) scale(0.8696,1)" font-size="20.70" fill="#000">]</text>
</g>
</g>
</svg>
</body></html>
